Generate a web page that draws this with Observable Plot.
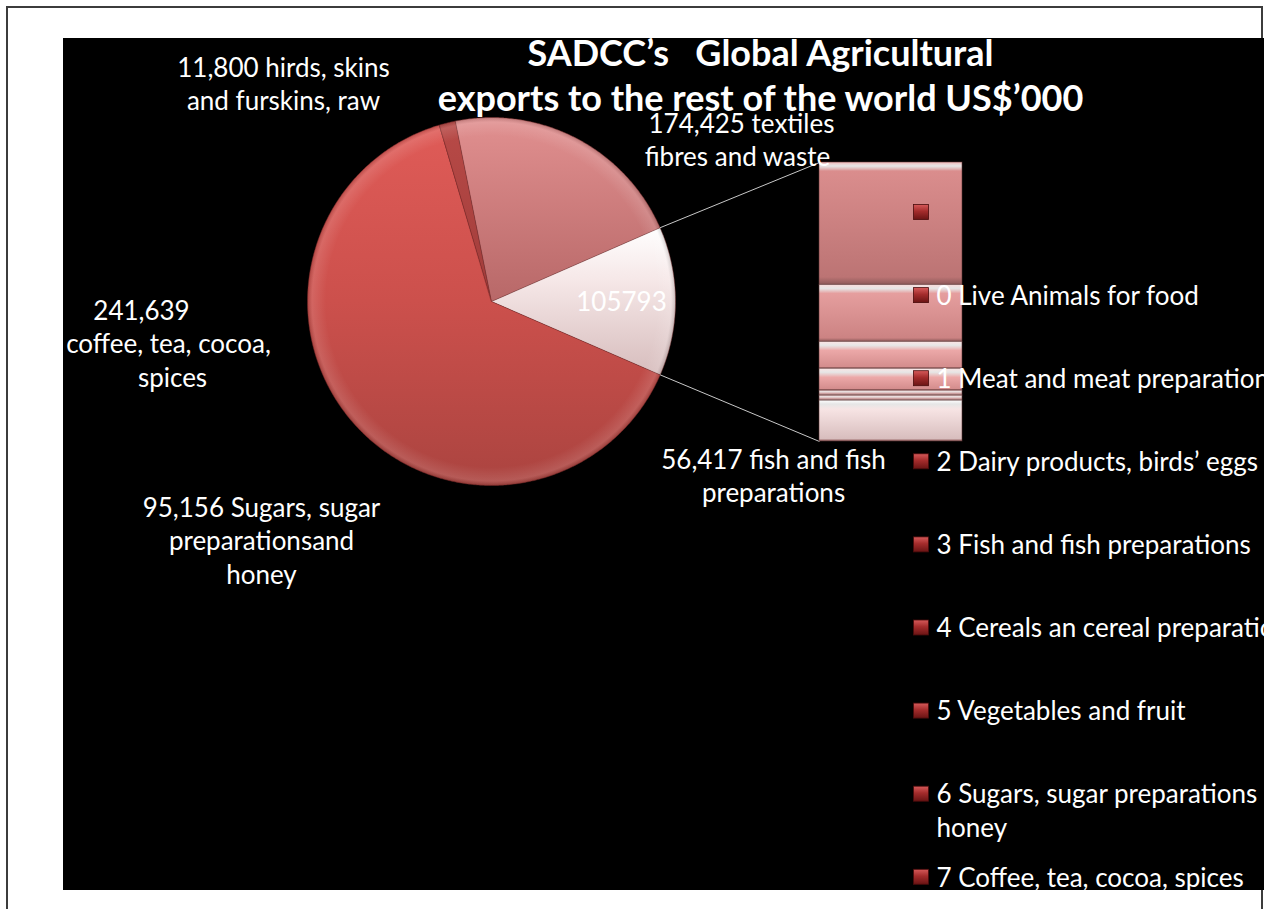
<!DOCTYPE html>
<html><head><meta charset="utf-8">
<script src="https://cdn.jsdelivr.net/npm/d3@7"></script>
<script src="https://cdn.jsdelivr.net/npm/@observablehq/plot@0.6"></script>
<style>
html,body{margin:0;padding:0;background:#fff;}
#page{position:relative;width:1264px;height:909px;overflow:hidden;background:#fff;}
#frame{position:absolute;left:6px;top:6px;width:1257px;height:1000px;border:2px solid #3c3c3c;box-sizing:border-box;}
#chart{position:absolute;left:63px;top:38px;width:1201px;height:852px;background:#000;overflow:hidden;}
#chart svg{display:block;}
</style></head><body>
<div id="page"><div id="frame"></div><div id="chart"></div></div>
<script>
// ---------------- DATA ----------------
const titleLines = ["SADCC’s   Global Agricultural", "exports to the rest of the world US$’000"];
// pie slices, clockwise from the hides sliver
const pieNames = ["21 Hides, skins and furskins, raw", "26 Textile fibres and waste", "Other (split in bar)", "Largest group"];
const hidesValue = 11800;
const textilesValue = 174425;
const largestValue = 516000;            // estimated from its angle
// bar of pie, top to bottom
const barValues = [46393, 21600, 10200, 8300, 1900, 1900, 15500];
const legendLabels = ["", "0 Live Animals for food", "1 Meat and meat preparations",
  "2 Dairy products, birds’ eggs", "3 Fish and fish preparations",
  "4 Cereals an cereal preparations", "5 Vegetables and fruit",
  "6 Sugars, sugar preparations\nhoney", "7 Coffee, tea, cocoa, spices"];
const dataLabels = ["11,800 hirds, skins\nand furskins, raw", "174,425 textiles\nfibres and waste",
  null, "241,639\ncoffee, tea, cocoa,\nspices", "56,417 fish and fish\npreparations",
  "95,156 Sugars, sugar\npreparationsand\nhoney"];

// ---------------- LAYOUT ----------------
const W = 1201, H = 852;
const pie = {cx: 428, cy: 263, r: 184, start: -16.6};
const bar = {x1: 756, x2: 899, y1: 124, y2: 403};
const legend = {x: 858, y0: 174, dy: 83.1, size: 15, tx: 873};
// first-line centre of each data label, and per-line x offsets
const labelPos = [[220, 30, [0, 0]], [678, 86, [0, -4]], [558, 264, [0]], [78, 273, [0, 27, 31]],
                  [710, 422, [0, 0]], [198, 470, [0, 0, 0]]];
const fontSize = 26, lineGap = 33.5;

// ---------------- DERIVED ----------------
const otherValue = d3.sum(barValues);
dataLabels[2] = String(otherValue);
const sliceValues = [hidesValue, textilesValue, otherValue, largestValue];
const total = d3.sum(sliceValues);
const rad = Math.PI / 180;
let acc = pie.start;
const slices = sliceValues.map((v, i) => {
  const a0 = acc, a1 = acc + 360 * v / total; acc = a1;
  return {i, a0, a1};
});
const sliceFill = ["url(#gHide)", "url(#gTex)", "url(#gOther)", "url(#gBig)"];
const piePts = [];
for (const s of slices) {
  piePts.push({i: s.i, x: pie.cx, y: pie.cy, f: sliceFill[s.i]});
  const n = Math.max(2, Math.ceil((s.a1 - s.a0) / 0.5));
  for (let k = 0; k <= n; k++) {
    const a = (s.a0 + (s.a1 - s.a0) * k / n) * rad;
    piePts.push({i: s.i, x: pie.cx + pie.r * Math.sin(a), y: pie.cy - pie.r * Math.cos(a), f: sliceFill[s.i]});
  }
}
const oth = slices[2];
const pt = a => [pie.cx + pie.r * Math.sin(a * rad), pie.cy - pie.r * Math.cos(a * rad)];
const links = [
  {p: pt(oth.a0), q: [bar.x1, bar.y1]},
  {p: pt(oth.a1), q: [bar.x1, bar.y2]}
];
const k = (bar.y2 - bar.y1) / otherValue;
const cum = d3.cumsum(barValues);
const barRows = barValues.map((v, i) => ({i, y1: bar.y1 + (cum[i] - v) * k, y2: bar.y1 + cum[i] * k}));
const legRows = legendLabels.map((t, i) => ({t, y: legend.y0 + i * legend.dy}));
const labRows = [];
dataLabels.forEach((t, i) => {
  const [x, y, dx] = labelPos[i];
  t.split("\n").forEach((line, j) => labRows.push({t: line, x: x + (dx[j] || 0), y: y + j * lineGap}));
});

const svg = Plot.plot({
  width: W, height: H, margin: 0,
  x: {type: "linear", domain: [0, W], range: [0, W], axis: null},
  y: {type: "linear", domain: [0, H], range: [0, H], axis: null},
  color: {type: "identity"},
  style: {background: "#000", color: "#fff", fontFamily: "Lato, sans-serif", overflow: "hidden"},
  marks: [
    Plot.line(piePts, {x: "x", y: "y", z: "i", fill: "f", stroke: "rgba(120,40,40,0.55)", strokeWidth: 0.8, curve: "linear-closed"}),
    Plot.dot([0], {x: () => pie.cx, y: () => pie.cy, r: pie.r, fill: "url(#gRim)", stroke: "none"}),
    Plot.link(links, {x1: d => d.p[0], y1: d => d.p[1], x2: d => d.q[0], y2: d => d.q[1], stroke: "#c8c8c8", strokeWidth: 1}),
    Plot.rect(barRows, {x1: () => bar.x1, x2: () => bar.x2, y1: "y1", y2: "y2", fill: d => `url(#gBar${d.i})`, stroke: "rgba(90,50,50,0.7)", strokeWidth: 0.8}),
    Plot.rect(legRows, {x1: () => legend.x - legend.size / 2, x2: () => legend.x + legend.size / 2,
      y1: d => d.y - legend.size / 2, y2: d => d.y + legend.size / 2, fill: "url(#gLeg)", stroke: "#4a0c0c", strokeWidth: 0.8}),
    Plot.text(legRows, {x: () => legend.tx, y: d => d.y - 14.5, text: "t", textAnchor: "start", lineAnchor: "top",
      fill: "#fff", fontSize, lineHeight: lineGap / fontSize}),
    Plot.text(labRows, {x: "x", y: "y", text: "t", textAnchor: "middle", fill: "#fff", fontSize}),
    Plot.text([titleLines.join("\n")], {x: () => 697, y: () => 36, text: d => d, textAnchor: "middle",
      fill: "#fff", fontSize: 36, fontWeight: "bold", lineHeight: 1.25})
  ]
});

// gradients
const defs = d3.select(svg).insert("defs", ":first-child");
function lin(id, stops, opts = {}) {
  const g = defs.append("linearGradient").attr("id", id).attr("x1", 0).attr("y1", 0).attr("x2", 0).attr("y2", 1);
  if (opts.user) g.attr("gradientUnits", "userSpaceOnUse").attr("x1", 0).attr("x2", 0).attr("y1", opts.ya).attr("y2", opts.yb);
  for (const [o, c, a] of stops) g.append("stop").attr("offset", o).attr("stop-color", c).attr("stop-opacity", a ?? 1);
}
lin("gBig", [[0, "#e05c58"], [0.5, "#cc504c"], [1, "#ab4440"]], {user: true, ya: pie.cy - pie.r, yb: pie.cy + pie.r});
lin("gTex", [[0, "#e19090"], [1, "#b86868"]], {user: true, ya: pie.cy - pie.r, yb: pie.cy});
lin("gOther", [[0, "#ffffff"], [0.35, "#f6e8e8"], [1, "#d6bcbc"]], {user: true, ya: pie.cy - 75, yb: pie.cy + 75});
lin("gHide", [[0, "#b84a47"], [1, "#a03c3a"]]);
lin("gLeg", [[0, "#d65a5a"], [0.45, "#a42c2c"], [1, "#6a1414"]]);
const barCols = [["#f1b6b6", "#da8d8d", "#bc7474"], ["#fbd8d8", "#e59e9e", "#cc8383"],
  ["#fde2e2", "#eca8a8", "#d48d8d"], ["#fde2e2", "#eca8a8", "#d48d8d"],
  ["#f1c8c8", "#d9a8a8", "#b48e8e"], ["#f1c8c8", "#d9a8a8", "#b48e8e"], ["#ffffff", "#f7e4e4", "#d8bebe"]];
barRows.forEach(d => {
  const h = d.y2 - d.y1, c = barCols[d.i];
  const o1 = Math.min(0.4, 4 / h), o2 = Math.min(0.55, 9 / h);
  lin(`gBar${d.i}`, [[0, c[0]], [o1, "#ffffff", 0.9], [o2, c[1]], [0.94, c[2]], [1, "#8e5a5a"]]);
});
const rg = defs.append("radialGradient").attr("id", "gRim");
[[0, "#fff", 0], [0.9, "#fff", 0], [0.975, "#fff", 0.12], [1, "#000", 0.15]].forEach(([o, c, a]) =>
  rg.append("stop").attr("offset", o).attr("stop-color", c).attr("stop-opacity", a));

document.getElementById("chart").appendChild(svg);
</script>
</body></html>
